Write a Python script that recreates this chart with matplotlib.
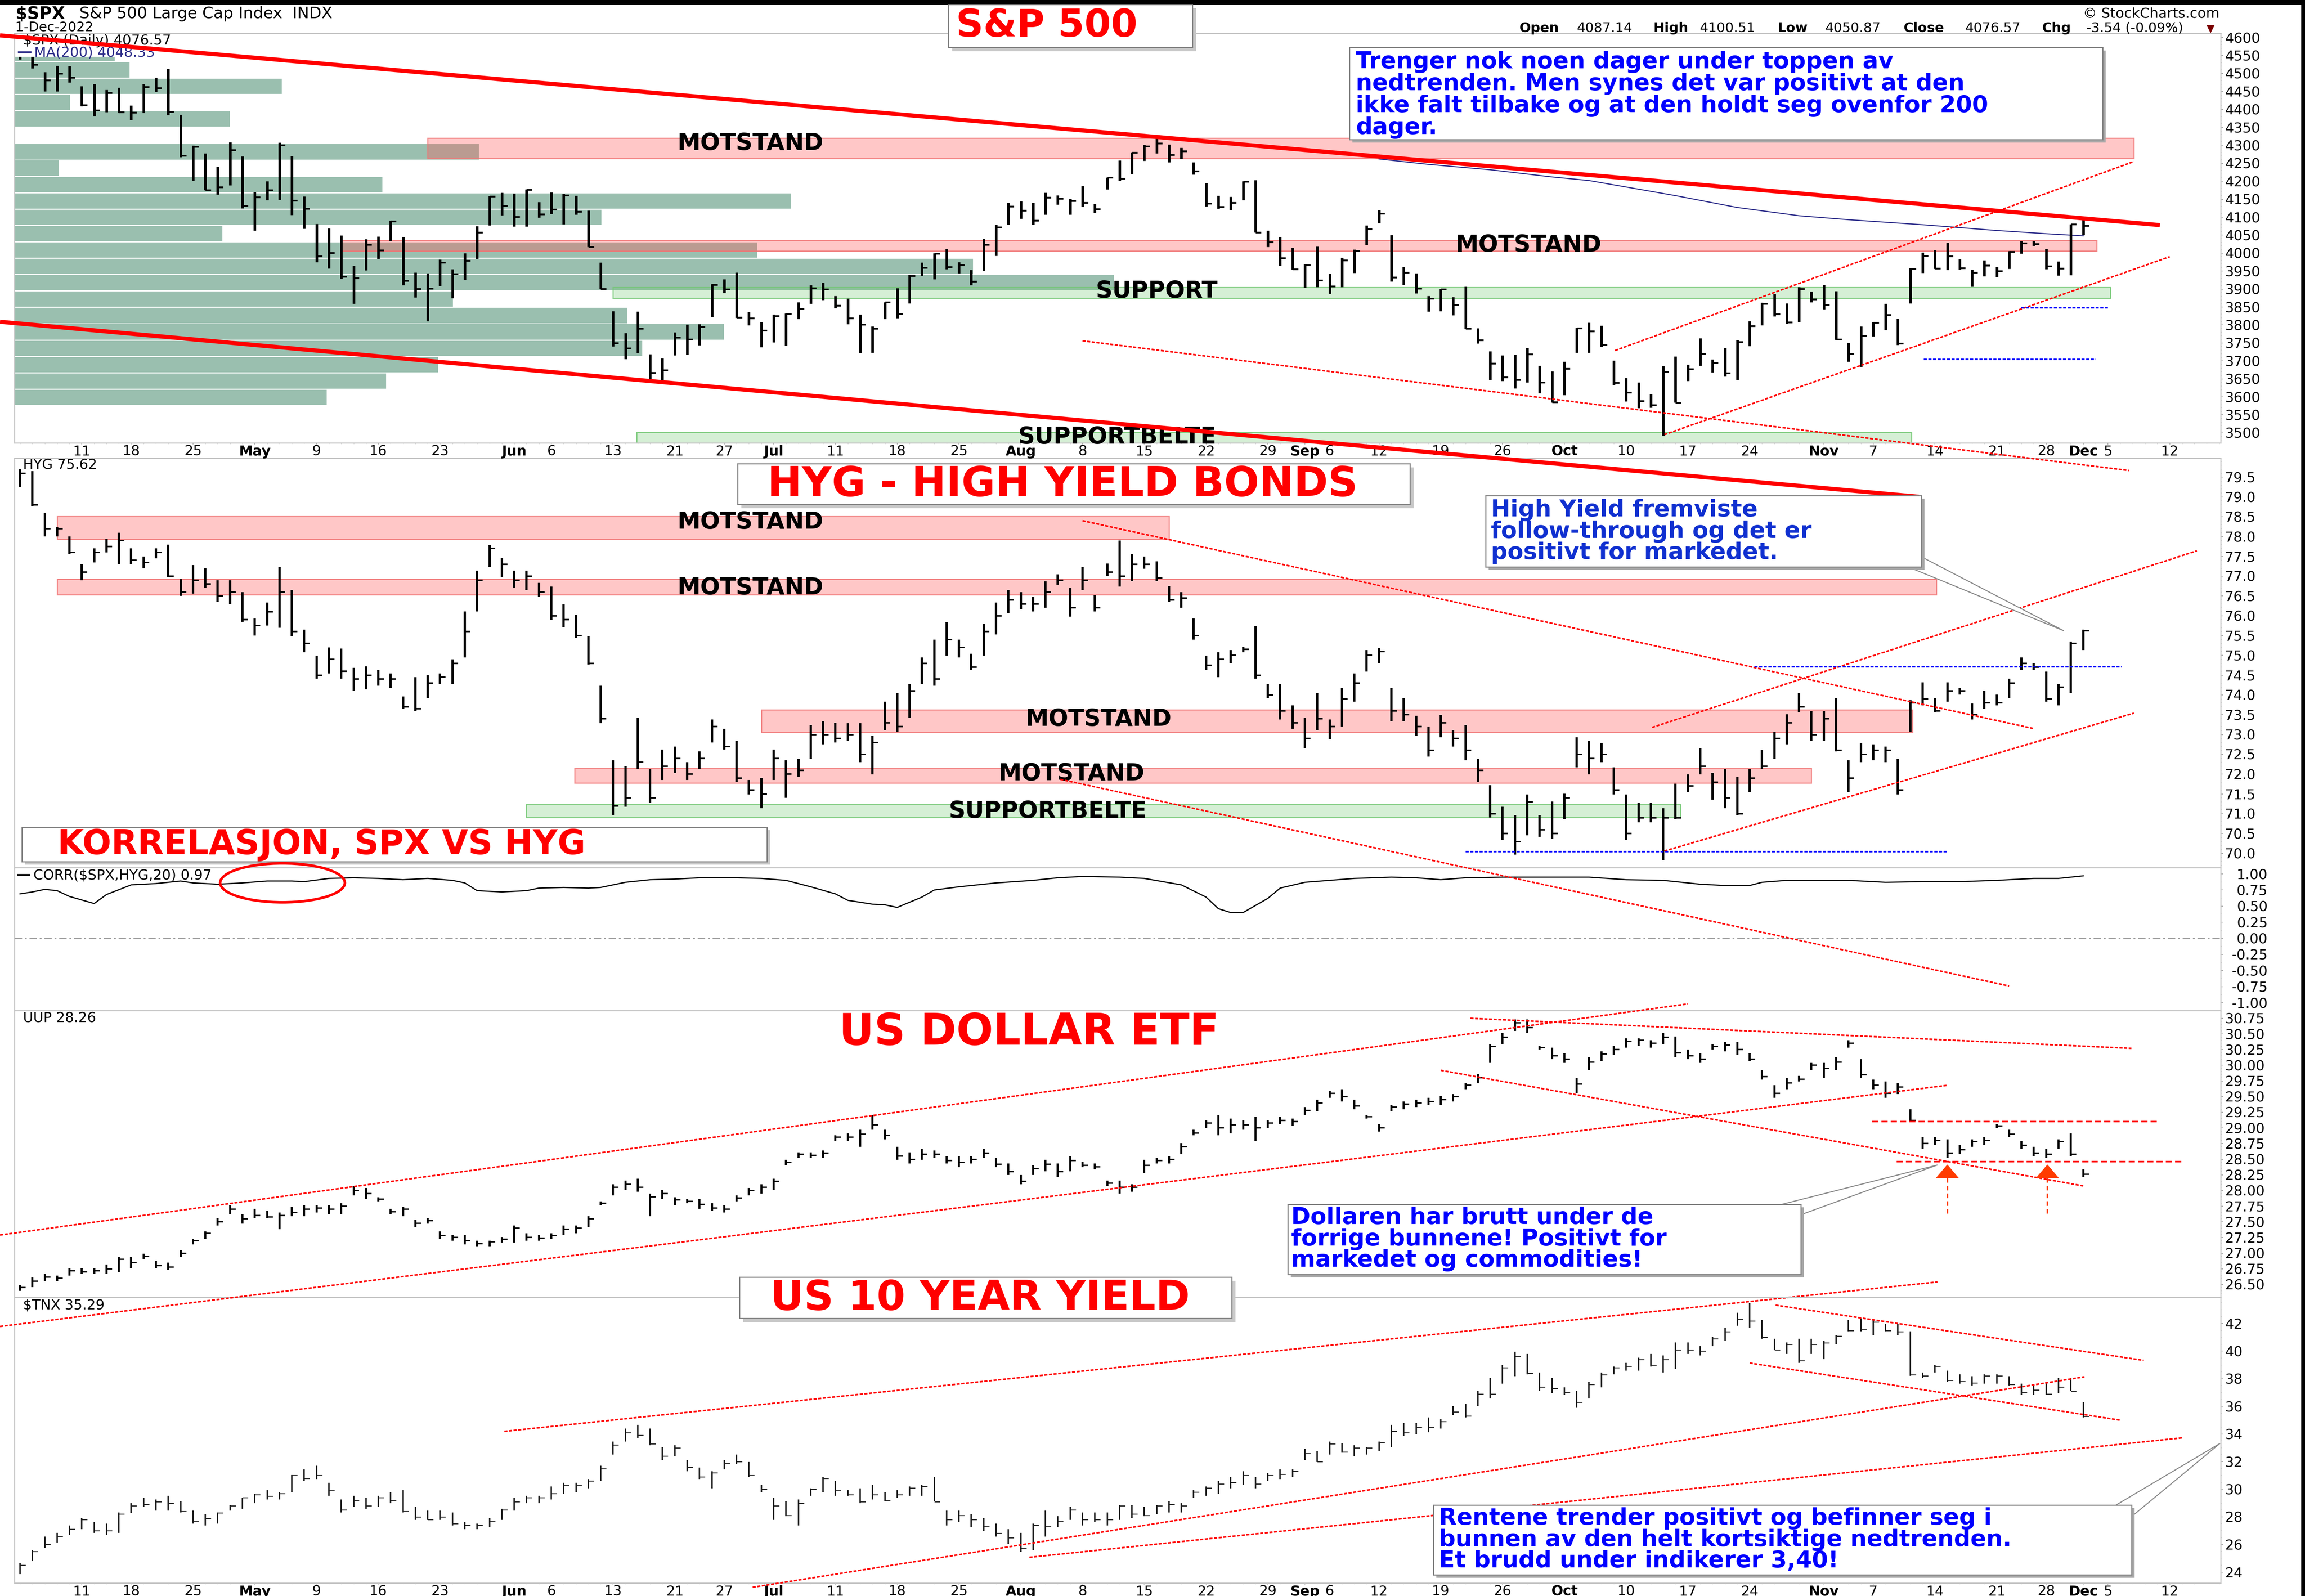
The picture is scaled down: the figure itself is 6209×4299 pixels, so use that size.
import numpy as np
import pandas as pd
import matplotlib
matplotlib.use("Agg")
import matplotlib.pyplot as plt
from matplotlib.collections import LineCollection
from matplotlib.patches import Rectangle, Polygon, Ellipse
from matplotlib.ticker import MultipleLocator, FixedLocator, FormatStrFormatter
from matplotlib.transforms import Affine2D

plt.rcParams['font.family'] = ['DejaVu Sans']

W, H = 6209, 4299

# trading calendar (bar index 0 = 4 Apr 2022)
holidays = pd.to_datetime(['2022-04-15', '2022-05-30', '2022-06-20', '2022-07-04', '2022-09-05', '2022-11-24'])
days = pd.bdate_range('2022-04-04', '2022-12-16')
days = days[~days.isin(holidays)]

tick_dates = ['2022-04-11', '2022-04-18', '2022-04-25', '2022-05-02', '2022-05-09', '2022-05-16',
              '2022-05-23', '2022-06-01', '2022-06-06', '2022-06-13', '2022-06-21', '2022-06-27',
              '2022-07-01', '2022-07-11', '2022-07-18', '2022-07-25', '2022-08-01', '2022-08-08',
              '2022-08-15', '2022-08-22', '2022-08-29', '2022-09-01', '2022-09-06', '2022-09-12',
              '2022-09-19', '2022-09-26', '2022-10-03', '2022-10-10', '2022-10-17', '2022-10-24',
              '2022-11-01', '2022-11-07', '2022-11-14', '2022-11-21', '2022-11-28', '2022-12-01',
              '2022-12-05', '2022-12-12']

# ---------------- $SPX daily bars ----------------
spx_high = [4583.5, 4593.5, 4503.9, 4521.2, 4520.6, 4464.4, 4471.0, 4453.9, 4460.5, 4410.5, 4471.0, 4488.3, 4512.9, 4385.1, 4299.0, 4278.1, 4240.7, 4308.5, 4269.7,
            4169.8, 4200.1, 4307.7, 4270.4, 4157.7, 4081.3, 4068.8, 4049.1, 3964.8, 4038.9, 4046.5, 4090.7, 4045.1, 3945.9, 3943.7, 3981.9, 3955.7, 3999.3, 4075.1, 4158.5, 4168.3,
            4166.5, 4177.5, 4142.7, 4168.8, 4164.9, 4160.1, 4119.1, 3973.6, 3838.2, 3777.6, 3837.6, 3719.1, 3707.7, 3779.7, 3801.8, 3802.6, 3913.7, 3927.7, 3945.9, 3836.5, 3808.8,
            3829.8, 3832.2, 3863.6, 3910.6, 3918.5, 3880.9, 3873.4, 3829.4, 3796.4, 3863.6, 3902.4, 3940.2, 3974.1, 3999.3, 4012.4, 3975.3, 3953.2, 4039.6, 4078.9, 4140.2,
            4144.9, 4140.5, 4167.7, 4161.3, 4151.6, 4186.6, 4137.3, 4211.0, 4257.9, 4280.5, 4301.8, 4325.3, 4302.2, 4292.9, 4253.1, 4195.1, 4159.8, 4156.6, 4200.5, 4203.0, 4063.0, 4045.0, 4015.4,
            3970.2, 4018.4, 3942.6, 3987.9, 4010.5, 4076.8, 4119.3, 4050.3, 3961.9, 3944.4, 3880.9, 3900.4, 3878.4, 3907.1, 3790.8, 3727.1, 3715.7, 3717.5, 3736.7, 3687.0, 3671.4,
            3698.4, 3791.9, 3806.9, 3797.9, 3701.6, 3652.2, 3640.7, 3608.3, 3685.4, 3713.0, 3689.7, 3762.8, 3703.9, 3736.0, 3757.9, 3810.7, 3862.6, 3886.2, 3860.0, 3905.4, 3893.7,
            3911.8, 3894.4, 3750.6, 3796.3, 3809.1, 3859.4, 3818.5, 3958.5, 4001.5, 4009.0, 4028.8, 3983.0, 3954.3, 3979.9, 3962.0, 4005.9, 4033.8, 4034.0, 4012.3, 3976.7, 4080.1,
            4100.5]
spx_low = [4539.2, 4514.2, 4450.0, 4450.3, 4474.6, 4408.4, 4381.3, 4392.7, 4390.8, 4370.3, 4390.1, 4448.8, 4384.5, 4267.6, 4200.8, 4175.0, 4162.9, 4188.6, 4124.3,
           4062.5, 4147.1, 4148.9, 4106.0, 4067.9, 3975.5, 3957.0, 3928.8, 3858.9, 3951.9, 3984.0, 4033.9, 3911.2, 3876.6, 3810.3, 3909.0, 3875.1, 3925.0, 3984.6, 4077.4, 4104.9,
           4073.9, 4074.4, 4098.7, 4109.2, 4080.2, 4107.2, 4017.2, 3900.2, 3740.0, 3705.7, 3722.3, 3639.8, 3636.9, 3715.3, 3717.7, 3743.5, 3821.8, 3889.7, 3820.1, 3799.0, 3738.7,
           3752.1, 3742.1, 3817.2, 3858.9, 3869.3, 3847.2, 3802.4, 3721.6, 3723.3, 3817.2, 3818.6, 3860.7, 3936.7, 3927.6, 3955.8, 3944.5, 3910.7, 3951.4, 3992.7, 4079.2,
           4096.0, 4079.8, 4107.2, 4135.4, 4107.3, 4129.0, 4112.1, 4177.3, 4201.4, 4219.8, 4256.9, 4277.8, 4253.1, 4262.0, 4218.7, 4129.9, 4124.0, 4120.0, 4147.6, 4057.7, 4017.4, 3965.2, 3954.5,
           3903.7, 3906.2, 3886.8, 3906.0, 3944.8, 4022.9, 4083.7, 3921.4, 3912.0, 3888.6, 3837.1, 3839.0, 3827.5, 3789.5, 3749.0, 3647.5, 3644.8, 3623.3, 3640.6, 3610.4, 3584.1,
           3604.9, 3722.7, 3722.7, 3739.2, 3633.2, 3588.1, 3568.5, 3569.9, 3491.6, 3584.4, 3644.2, 3686.5, 3668.2, 3656.4, 3647.4, 3741.7, 3799.4, 3824.1, 3803.8, 3808.3, 3863.2,
           3843.8, 3758.7, 3698.2, 3684.0, 3767.9, 3786.3, 3744.2, 3860.0, 3944.8, 3956.4, 3953.2, 3954.3, 3906.5, 3936.0, 3933.3, 3956.9, 3998.7, 4020.8, 3955.8, 3937.7, 3938.6,
           4050.9]
spx_close = [4582.6, 4525.1, 4481.2, 4500.2, 4488.3, 4412.5, 4397.5, 4446.6, 4392.6, 4391.7, 4462.2, 4459.5, 4393.7, 4271.8, 4296.1, 4175.2, 4184.0, 4287.5, 4131.9,
             4155.4, 4175.5, 4300.2, 4146.9, 4123.3, 3991.2, 4001.1, 3935.2, 3930.1, 4023.9, 4008.0, 4088.9, 3923.7, 3900.8, 3901.4, 3973.8, 3941.5, 3978.7, 4057.8, 4158.2, 4132.2,
             4101.2, 4176.8, 4108.5, 4121.4, 4160.7, 4115.8, 4017.8, 3900.9, 3749.6, 3735.5, 3790.0, 3666.8, 3674.8, 3764.8, 3759.9, 3795.7, 3911.7, 3900.1, 3821.6, 3818.8, 3785.4,
             3825.3, 3831.4, 3845.1, 3902.6, 3899.4, 3854.4, 3818.8, 3801.8, 3790.4, 3863.2, 3830.9, 3936.7, 3959.9, 3999.0, 3961.6, 3966.8, 3921.1, 4023.6, 4072.4, 4130.3,
             4118.6, 4091.2, 4155.2, 4151.9, 4145.2, 4140.1, 4122.5, 4210.2, 4207.3, 4280.2, 4297.1, 4305.2, 4274.0, 4283.7, 4228.5, 4138.0, 4128.7, 4140.8, 4199.1, 4057.7, 4030.6, 3986.2, 3955.0,
             3966.9, 3924.3, 3908.2, 3979.9, 4006.2, 4067.4, 4110.4, 3932.7, 3946.0, 3901.4, 3873.3, 3899.9, 3855.9, 3789.9, 3758.0, 3693.2, 3655.0, 3647.3, 3719.0, 3640.5, 3585.6,
             3678.4, 3790.9, 3783.3, 3744.5, 3639.7, 3612.4, 3588.8, 3577.0, 3669.9, 3583.1, 3678.0, 3720.0, 3695.2, 3665.8, 3752.8, 3797.3, 3859.1, 3830.6, 3807.3, 3901.1, 3872.0,
             3856.1, 3759.7, 3719.9, 3770.6, 3806.8, 3828.1, 3748.6, 3956.4, 3992.9, 3957.3, 3991.7, 3958.8, 3946.6, 3965.3, 3949.9, 4003.6, 4027.3, 4026.1, 3963.9, 3957.6, 4080.1,
             4076.6]

# 200-day moving average (visible part)
ma_day = [110, 114, 119, 124, 127, 130, 134, 139, 144, 148, 151, 154, 157, 160, 164, 167]
ma_val = [4262, 4247, 4232, 4212, 4202, 4184, 4160, 4127, 4104, 4093, 4086, 4079, 4071, 4063, 4054, 4048]

# volume-by-price rows (top of first row, row size, relative volume)
vbp_top = 4578
vbp_bin = 45.56
vbp_volume = [27, 31, 72, 15, 58, 0, 125, 12, 99, 209, 158, 56, 200, 258, 296, 118, 165, 191, 169, 114, 100, 84]

# ---------------- HYG daily bars ----------------
hyg_high = [79.7, 79.65, 78.6, 78.25, 78.0, 77.3, 77.7, 77.95, 78.1, 77.7,
            77.5, 77.7, 77.8, 76.92, 77.28, 77.2, 76.9, 76.9, 76.6, 75.93,
            76.33, 77.23, 76.65, 75.65, 74.99, 75.2, 75.17, 74.68, 74.72, 74.63,
            74.54, 73.96, 74.45, 74.5, 74.54, 74.9, 76.11, 77.14, 77.79, 77.46,
            77.14, 77.14, 76.83, 76.74, 76.29, 76.02, 75.48, 74.23, 72.35, 72.2,
            73.42, 72.12, 72.62, 72.7, 72.3, 72.57, 73.38, 73.15, 72.84, 71.85,
            71.9, 72.62, 72.35, 72.39, 73.24, 73.33, 73.3, 73.29, 73.29, 72.97,
            73.83, 74.05, 74.27, 74.95, 75.4, 75.84, 75.4, 75.04, 75.8, 76.33,
            76.65, 76.6, 76.47, 76.87, 77.05, 76.7, 77.23, 76.52, 77.32, 77.9,
            77.55, 77.5, 77.37, 76.75, 76.6, 75.93, 74.99, 75.08, 75.13, 75.22,
            75.73, 74.27, 74.27, 73.74, 73.42, 74.05, 73.38, 74.18, 74.54, 75.13,
            75.19, 74.18, 73.92, 73.47, 73.2, 73.49, 73.11, 73.24, 72.39, 71.72,
            71.18, 70.96, 71.49, 70.96, 71.31, 71.51, 72.93, 72.84, 72.79, 72.17,
            71.49, 71.27, 71.27, 71.14, 71.76, 71.99, 72.66, 72.03, 72.12, 71.94,
            72.12, 72.61, 73.06, 73.51, 74.05, 73.6, 73.6, 73.92, 72.35, 72.79,
            72.75, 72.70, 72.39, 73.87, 74.32, 73.92, 74.32, 74.18, 73.78, 74.10,
            74.01, 74.41, 74.95, 74.81, 74.59, 74.27, 75.35, 75.65]
hyg_low = [79.25, 78.76, 78.0, 78.0, 77.55, 76.9, 77.35, 77.6, 77.3, 77.3,
           77.2, 77.45, 76.97, 76.5, 76.56, 76.7, 76.35, 76.3, 75.85, 75.5,
           75.75, 75.7, 75.48, 75.08, 74.41, 74.54, 74.41, 74.1, 74.14, 74.23,
           74.18, 73.65, 73.6, 73.92, 74.27, 74.27, 74.95, 76.11, 77.23, 76.97,
           76.7, 76.65, 76.47, 75.89, 75.71, 75.44, 74.77, 73.29, 70.97, 71.18,
           72.12, 71.27, 71.85, 72.03, 71.85, 72.12, 72.8, 72.62, 71.81, 71.49,
           71.14, 71.85, 71.4, 71.94, 72.39, 72.75, 72.8, 72.84, 72.3, 71.99,
           73.11, 73.06, 73.42, 74.27, 74.23, 74.99, 74.95, 74.63, 74.99, 75.53,
           76.07, 76.16, 76.11, 76.2, 76.78, 75.98, 76.65, 76.11, 77.0, 76.74,
           76.88, 77.19, 76.88, 76.35, 76.2, 75.4, 74.63, 74.45, 74.81, 75.08,
           74.41, 73.92, 73.38, 73.15, 72.66, 73.11, 72.88, 73.2, 73.83, 74.59,
           74.81, 73.33, 73.33, 72.97, 72.44, 72.93, 72.7, 72.35, 71.81, 70.91,
           70.33, 69.97, 70.46, 70.42, 70.37, 70.87, 72.17, 71.99, 72.3, 71.49,
           70.33, 70.78, 70.78, 69.83, 70.87, 71.54, 71.99, 71.36, 71.14, 70.96,
           71.54, 72.12, 72.39, 72.75, 73.56, 72.84, 72.84, 72.57, 71.54, 72.3,
           72.35, 72.30, 71.49, 73.06, 73.74, 73.56, 73.83, 74.01, 73.38, 73.65,
           73.74, 73.92, 74.63, 74.63, 73.83, 73.74, 74.05, 75.13]
hyg_close = [79.6, 78.8, 78.2, 78.2, 77.6, 77.1, 77.6, 77.75, 77.9, 77.4,
             77.35, 77.6, 77.0, 76.6, 76.9, 76.8, 76.5, 76.6, 75.9, 75.75,
             76.1, 76.6, 75.6, 75.3, 74.5, 74.9, 74.6, 74.4, 74.5, 74.4,
             74.4, 73.7, 73.65, 74.3, 74.45, 74.8, 75.6, 76.9, 77.7, 77.3,
             76.9, 77.0, 76.6, 76.0, 75.9, 75.5, 74.8, 73.4, 71.2, 71.4,
             72.3, 71.4, 72.2, 72.4, 72.0, 72.4, 73.2, 72.7, 71.9, 71.6,
             71.5, 72.4, 72.0, 72.1, 73.0, 73.0, 72.9, 73.0, 72.5, 72.8,
             73.3, 73.2, 74.1, 74.8, 74.4, 75.4, 75.2, 74.7, 75.6, 76.0,
             76.4, 76.3, 76.3, 76.6, 76.9, 76.2, 76.9, 76.2, 77.1, 77.0,
             77.3, 77.3, 76.95, 76.4, 76.45, 75.5, 74.75, 74.9, 75.0, 75.15,
             74.5, 74.0, 73.6, 73.3, 72.9, 73.4, 73.2, 73.9, 74.3, 75.0,
             75.1, 73.6, 73.5, 73.2, 72.6, 73.3, 72.9, 72.6, 72.1, 71.0,
             70.5, 70.3, 71.3, 70.6, 70.5, 71.4, 72.5, 72.4, 72.5, 71.6,
             70.5, 70.9, 70.9, 70.9, 70.9, 71.7, 72.2, 71.8, 71.4, 71.0,
             71.9, 72.2, 72.9, 73.3, 73.7, 73.0, 73.4, 72.6, 71.9, 72.5,
             72.6, 72.6, 71.6, 73.8, 73.9, 73.6, 74.1, 74.1, 73.5, 73.8,
             73.8, 74.3, 74.8, 74.7, 73.9, 74.2, 75.3, 75.62]

# CORR($SPX,HYG,20)
corr_day = [0, 1, 2, 3, 4, 6, 7, 9, 11, 13, 14, 16, 18, 20, 22, 23, 25, 27, 29, 31, 33, 35, 36, 37, 39,
            41, 42, 44, 46, 47, 49, 51, 53, 55, 58, 60, 62, 64, 66, 67, 69, 70, 71, 73, 74, 76, 79, 82,
            84, 86, 89, 90, 91, 94, 96, 97, 98, 99, 101, 102, 104, 106, 108, 111, 113, 115, 117, 120,
            127, 130, 133, 136, 138, 140, 141, 143, 148, 151, 154, 157, 160, 163, 165, 167]
corr_val = [0.69, 0.72, 0.76, 0.74, 0.65, 0.54, 0.68, 0.83, 0.85, 0.89, 0.86, 0.84, 0.86, 0.89, 0.89,
            0.88, 0.93, 0.94, 0.93, 0.91, 0.93, 0.90, 0.86, 0.74, 0.72, 0.74, 0.78, 0.79, 0.78, 0.79,
            0.87, 0.91, 0.92, 0.94, 0.94, 0.93, 0.90, 0.80, 0.69, 0.59, 0.53, 0.52, 0.48, 0.64, 0.75,
            0.80, 0.86, 0.90, 0.94, 0.96, 0.95, 0.94, 0.93, 0.83, 0.64, 0.46, 0.40, 0.40, 0.62, 0.78,
            0.87, 0.90, 0.93, 0.95, 0.94, 0.91, 0.94, 0.95, 0.95, 0.91, 0.90, 0.84, 0.82, 0.82, 0.87,
            0.90, 0.90, 0.87, 0.88, 0.88, 0.90, 0.93, 0.93, 0.97]

# ---------------- UUP daily bars ----------------
uup_high = [26.49, 26.61, 26.67, 26.64, 26.76, 26.76, 26.76, 26.82, 26.94, 26.94,
            26.99, 26.88, 26.85, 27.05, 27.23, 27.35, 27.56, 27.77, 27.62, 27.71,
            27.68, 27.65, 27.74, 27.77, 27.77, 27.77, 27.80, 28.07, 28.04, 27.89,
            27.71, 27.74, 27.53, 27.56, 27.35, 27.29, 27.29, 27.20, 27.20, 27.26,
            27.44, 27.32, 27.29, 27.32, 27.44, 27.44, 27.59, 27.83, 28.10, 28.16,
            28.19, 27.95, 28.01, 27.89, 27.86, 27.86, 27.80, 27.77, 27.92, 28.04,
            28.10, 28.19, 28.49, 28.61, 28.61, 28.64, 28.88, 28.91, 28.97, 29.21,
            28.97, 28.70, 28.61, 28.67, 28.64, 28.55, 28.55, 28.55, 28.67, 28.52,
            28.43, 28.25, 28.40, 28.49, 28.43, 28.55, 28.46, 28.43, 28.16, 28.16,
            28.10, 28.49, 28.52, 28.55, 28.76, 28.97, 29.12, 29.21, 29.15, 29.12,
            29.18, 29.12, 29.18, 29.15, 29.33, 29.45, 29.59, 29.62, 29.45, 29.21,
            29.06, 29.36, 29.42, 29.45, 29.48, 29.51, 29.54, 29.71, 29.86, 30.34,
            30.52, 30.73, 30.73, 30.31, 30.28, 30.19, 29.80, 30.13, 30.22, 30.31,
            30.43, 30.43, 30.40, 30.52, 30.46, 30.25, 30.19, 30.34, 30.37, 30.37,
            30.19, 29.92, 29.68, 29.80, 29.83, 30.04, 30.04, 30.13, 30.40, 30.10,
            29.77, 29.74, 29.71, 29.30, 28.85, 28.85, 28.82, 28.73, 28.82, 28.85,
            29.06, 28.97, 28.79, 28.70, 28.67, 28.82, 28.91, 28.34]
uup_low = [26.40, 26.46, 26.55, 26.55, 26.64, 26.67, 26.67, 26.67, 26.70, 26.76,
           26.91, 26.76, 26.73, 26.94, 27.14, 27.23, 27.44, 27.62, 27.47, 27.56,
           27.56, 27.38, 27.59, 27.59, 27.65, 27.62, 27.62, 27.92, 27.86, 27.83,
           27.62, 27.59, 27.41, 27.47, 27.23, 27.20, 27.14, 27.11, 27.11, 27.17,
           27.17, 27.20, 27.20, 27.23, 27.29, 27.32, 27.41, 27.77, 27.92, 28.01,
           27.98, 27.59, 27.86, 27.77, 27.80, 27.71, 27.68, 27.65, 27.83, 27.92,
           27.95, 28.01, 28.40, 28.52, 28.52, 28.52, 28.79, 28.79, 28.70, 28.97,
           28.82, 28.49, 28.43, 28.49, 28.52, 28.43, 28.37, 28.43, 28.52, 28.37,
           28.25, 28.10, 28.25, 28.31, 28.22, 28.31, 28.37, 28.34, 28.07, 27.95,
           27.98, 28.28, 28.43, 28.43, 28.58, 28.88, 29.00, 28.88, 28.91, 28.97,
           28.79, 29.00, 29.06, 29.03, 29.21, 29.27, 29.48, 29.42, 29.30, 29.15,
           28.94, 29.27, 29.30, 29.33, 29.36, 29.36, 29.42, 29.62, 29.71, 30.04,
           30.34, 30.55, 30.52, 30.25, 30.10, 30.04, 29.56, 29.92, 30.07, 30.16,
           30.28, 30.31, 30.28, 30.34, 30.13, 30.10, 30.04, 30.25, 30.22, 30.16,
           30.07, 29.77, 29.48, 29.62, 29.74, 29.92, 29.80, 29.92, 30.28, 29.80,
           29.62, 29.48, 29.54, 29.09, 28.67, 28.73, 28.52, 28.58, 28.70, 28.73,
           29.00, 28.85, 28.67, 28.55, 28.52, 28.67, 28.55, 28.22]
uup_close = [26.45, 26.55, 26.62, 26.60, 26.72, 26.70, 26.72, 26.75, 26.90, 26.85,
             26.95, 26.80, 26.78, 27.00, 27.20, 27.32, 27.50, 27.70, 27.55, 27.60,
             27.58, 27.60, 27.65, 27.70, 27.72, 27.70, 27.75, 28.00, 27.95, 27.86,
             27.66, 27.70, 27.48, 27.52, 27.28, 27.25, 27.20, 27.15, 27.18, 27.22,
             27.40, 27.25, 27.24, 27.28, 27.38, 27.40, 27.55, 27.80, 28.05, 28.10,
             28.05, 27.90, 27.95, 27.85, 27.83, 27.78, 27.72, 27.70, 27.88, 28.00,
             28.05, 28.15, 28.45, 28.58, 28.56, 28.60, 28.85, 28.85, 28.90, 29.05,
             28.88, 28.55, 28.50, 28.58, 28.58, 28.48, 28.45, 28.50, 28.60, 28.42,
             28.30, 28.15, 28.35, 28.42, 28.30, 28.48, 28.40, 28.38, 28.12, 28.05,
             28.05, 28.40, 28.48, 28.50, 28.70, 28.92, 29.08, 29.00, 29.05, 29.05,
             29.00, 29.08, 29.12, 29.10, 29.28, 29.40, 29.55, 29.50, 29.35, 29.18,
             29.00, 29.33, 29.38, 29.40, 29.42, 29.45, 29.50, 29.68, 29.80, 30.30,
             30.45, 30.68, 30.60, 30.28, 30.15, 30.10, 29.70, 30.05, 30.18, 30.25,
             30.38, 30.40, 30.35, 30.45, 30.20, 30.15, 30.10, 30.30, 30.32, 30.25,
             30.10, 29.82, 29.55, 29.72, 29.78, 30.00, 29.95, 30.05, 30.35, 29.85,
             29.68, 29.55, 29.65, 29.12, 28.75, 28.80, 28.60, 28.65, 28.78, 28.80,
             29.03, 28.90, 28.72, 28.60, 28.58, 28.78, 28.58, 28.26]

# ---------------- $TNX daily bars ----------------
tnx_high = [24.66, 25.61, 26.56, 26.83, 27.37, 27.91, 27.64, 27.50, 28.31, 29.00,
            29.40, 29.26, 29.53, 29.12, 28.45, 28.18, 28.31, 28.85, 29.40, 29.67,
            29.94, 29.80, 31.02, 31.43, 31.70, 30.48, 29.26, 29.53, 29.40, 29.53,
            29.80, 29.94, 28.72, 28.45, 28.45, 28.31, 27.64, 27.50, 27.91, 28.58,
            29.40, 29.53, 29.53, 30.21, 30.48, 30.48, 30.75, 31.70, 33.46, 34.40,
            34.67, 34.40, 33.05, 33.19, 32.10, 31.56, 31.29, 32.10, 32.51, 31.97,
            30.34, 29.40, 29.12, 29.26, 30.07, 30.89, 30.61, 29.94, 30.07, 30.34,
            29.80, 29.94, 30.21, 30.34, 30.89, 28.45, 28.45, 28.18, 27.91, 27.50,
            27.10, 26.83, 27.50, 28.45, 28.04, 28.72, 28.31, 28.31, 28.31, 28.85,
            28.85, 28.72, 28.85, 29.12, 28.99, 29.94, 30.21, 30.61, 30.89, 31.29,
            30.89, 31.16, 31.43, 31.43, 32.92, 32.78, 33.46, 33.32, 33.19, 33.05,
            33.46, 34.67, 34.81, 34.81, 35.21, 35.07, 36.03, 36.16, 37.11, 38.06,
            39.00, 39.95, 39.81, 38.46, 38.06, 37.38, 37.11, 37.79, 38.46, 38.87,
            39.14, 39.54, 39.81, 39.68, 40.63, 40.63, 40.36, 41.03, 41.71, 42.79,
            43.47, 42.25, 40.90, 40.63, 40.90, 40.90, 40.76, 41.17, 42.25, 42.39,
            42.25, 41.98, 41.98, 41.44, 38.46, 39.00, 38.60, 38.33, 38.19, 38.33,
            38.33, 38.19, 37.65, 37.51, 37.65, 38.06, 38.06, 36.29]
tnx_low = [23.85, 24.80, 25.74, 26.15, 26.69, 27.10, 26.83, 26.69, 26.83, 28.30,
           28.72, 28.45, 28.45, 28.31, 27.50, 27.37, 27.50, 28.45, 28.58, 28.99,
           29.26, 29.26, 29.80, 30.61, 30.75, 29.53, 28.31, 28.72, 28.58, 28.72,
           28.99, 28.31, 27.77, 27.77, 27.77, 27.37, 27.10, 27.10, 27.23, 27.77,
           28.45, 28.99, 28.99, 29.26, 29.67, 29.80, 30.07, 30.61, 32.51, 33.46,
           33.73, 33.19, 32.10, 32.37, 31.29, 30.75, 30.07, 31.43, 31.83, 30.89,
           29.80, 27.77, 28.04, 27.37, 29.53, 29.80, 29.53, 29.53, 28.99, 29.26,
           29.12, 29.40, 29.53, 29.53, 29.12, 27.37, 27.64, 27.23, 26.97, 26.56,
           26.02, 25.47, 25.61, 26.56, 27.23, 27.77, 27.37, 27.64, 27.37, 27.77,
           27.91, 28.04, 28.18, 28.31, 28.31, 29.40, 29.53, 29.67, 30.07, 30.34,
           30.07, 30.61, 30.75, 30.89, 32.10, 31.97, 32.51, 32.65, 32.37, 32.51,
           32.78, 33.05, 33.86, 34.00, 34.13, 34.40, 35.35, 35.21, 36.03, 36.57,
           37.65, 38.19, 38.33, 37.11, 36.97, 36.84, 35.89, 36.57, 37.38, 38.33,
           38.60, 38.60, 38.87, 38.46, 38.73, 39.81, 39.68, 40.36, 40.76, 41.84,
           41.71, 40.90, 40.09, 39.81, 39.14, 39.81, 39.41, 40.49, 41.44, 41.44,
           41.17, 41.44, 41.17, 38.20, 38.06, 38.46, 37.79, 37.65, 37.51, 37.65,
           37.65, 37.51, 36.84, 36.84, 36.84, 36.97, 37.11, 35.20]
tnx_close = [24.50, 25.50, 26.00, 26.60, 27.10, 27.80, 27.00, 27.00, 28.20, 28.80,
             28.90, 29.10, 29.00, 28.40, 27.70, 27.90, 28.30, 28.80, 29.40, 29.60,
             29.50, 29.70, 31.00, 30.80, 31.00, 29.90, 28.50, 29.20, 28.80, 29.40,
             29.20, 28.40, 28.00, 27.80, 28.00, 27.50, 27.40, 27.40, 27.70, 28.50,
             29.10, 29.40, 29.40, 29.70, 30.30, 30.30, 30.60, 31.50, 33.20, 34.10,
             33.90, 33.30, 32.40, 33.00, 31.60, 30.90, 31.20, 31.90, 32.00, 31.00,
             30.00, 28.80, 28.10, 29.00, 30.00, 30.80, 29.90, 29.60, 29.10, 29.60,
             29.20, 29.60, 30.10, 30.20, 29.10, 27.80, 28.10, 27.80, 27.30, 26.80,
             26.50, 25.70, 27.40, 27.30, 27.70, 28.50, 27.80, 27.80, 27.80, 28.80,
             28.20, 28.10, 28.80, 28.90, 28.80, 29.80, 30.10, 30.40, 30.50, 31.00,
             30.40, 31.00, 31.10, 31.30, 32.60, 32.00, 33.30, 32.70, 33.00, 33.00,
             33.40, 34.20, 34.10, 34.50, 34.50, 34.90, 35.60, 35.30, 36.90, 36.90,
             38.80, 39.60, 38.40, 37.40, 37.30, 37.00, 36.30, 37.60, 38.30, 38.80,
             38.90, 39.40, 39.00, 39.40, 40.10, 40.10, 40.00, 40.90, 41.40, 42.30,
             42.20, 41.00, 40.10, 40.50, 39.30, 40.50, 40.60, 41.10, 41.50, 41.60,
             42.10, 41.50, 41.40, 38.30, 38.20, 38.90, 37.90, 37.80, 37.70, 38.20,
             38.20, 37.60, 37.00, 37.20, 36.90, 37.40, 37.10, 35.29]

# ---------------- drawn annotations (bar index, price) ----------------
spx_zones = [(33.0, 171.1, 4263, 4320, 'r'), (26.0, 168.1, 4006, 4036, 'r'),
             (48.0, 169.2, 3875, 3905, 'g'), (49.9, 153.1, 3470, 3502, 'g')]
spx_zone_text = [(59.1, 4305, 'MOTSTAND'), (122.1, 4021, 'MOTSTAND'), (92.0, 3893, 'SUPPORT'), (88.8, 3487, 'SUPPORTBELTE')]
spx_thick = [((-1.62, 4606), (173.2, 4078)), ((-1.62, 3809), (153.7, 3322))]
spx_dotted = [((86.0, 3756), (170.7, 3395)), ((129.1, 3729), (171.1, 4255)), ((133.1, 3495), (174.0, 3990))]
spx_blue = [((162.0, 3848), (169.0, 3848)), ((154.1, 3704), (168.0, 3704))]

hyg_zones = [(3.0, 93.0, 77.93, 78.51, 'r'), (3.0, 155.1, 76.53, 76.92, 'r'), (60.0, 153.2, 73.05, 73.62, 'r'),
             (44.9, 145.0, 71.78, 72.14, 'r'), (41.0, 134.4, 70.91, 71.23, 'g')]
hyg_zone_text = [(59.1, 78.36, 'MOTSTAND'), (59.1, 76.70, 'MOTSTAND'), (87.3, 73.38, 'MOTSTAND'),
                 (85.1, 72.0, 'MOTSTAND'), (83.2, 71.06, 'SUPPORTBELTE')]
hyg_dotted = [((86.0, 78.40), (163.0, 73.15)), ((84.2, 71.87), (161.0, 66.65)),
              ((132.1, 73.18), (176.2, 77.64)), ((133.1, 70.06), (171.1, 73.54))]
hyg_blue = [((140.4, 74.71), (170.1, 74.71)), ((117.0, 70.04), (156.0, 70.04))]

uup_dotted = [((-1.62, 27.29), (135.0, 30.98)), ((-1.62, 25.83), (156.0, 29.68)),
              ((117.4, 30.75), (170.9, 30.27)), ((115.0, 29.92), (167.1, 28.07))]
uup_dashed = [((149.9, 29.10), (173.1, 29.10)), ((151.9, 28.46), (175.1, 28.46))]
uup_arrow_day = [156.0, 164.1]

tnx_dotted = [((39.2, 34.19), (155.2, 45.01)), ((59.3, 22.90), (167.1, 38.14)), ((81.7, 25.07), (175.1, 33.73)),
              ((142.1, 43.33), (171.9, 39.33)), ((140.0, 39.14), (170.0, 35.00))]

spx_note = ["Trenger nok noen dager under toppen av", "nedtrenden. Men synes det var positivt at den",
            "ikke falt tilbake og at den holdt seg ovenfor 200", "dager."]
hyg_note = ["High Yield fremviste", "follow-through og det er", "positivt for markedet."]
uup_note = ["Dollaren har brutt under de", "forrige bunnene! Positivt for", "markedet og commodities!"]
tnx_note = ["Rentene trender positivt og befinner seg i", "bunnen av den helt kortsiktige nedtrenden.",
            "Et brudd under indikerer 3,40!"]

# ---------------- figure ----------------
XL, XR = -0.45, 178.13
fig = plt.figure(figsize=(W / 100, H / 100), dpi=100)
fig.patch.set_facecolor('white')
px = Affine2D().scale(1.0 / W, -1.0 / H).translate(0, 1) + fig.transFigure

tick_pos = [days.get_loc(pd.Timestamp(t)) for t in tick_dates]
tick_lbl, tick_month = [], []
for i in tick_pos:
    new_month = i == 0 or days[i - 1].month != days[i].month
    tick_lbl.append(days[i].strftime('%b') if new_month else str(days[i].day))
    tick_month.append(new_month)

RED = '#ff0000'
GRAY = '#c4c4c4'
TICKFS = 27
LEGFS = 27


def panel(top, bottom, z, ylim, major, minor, fmt):
    ax = fig.add_axes([39 / W, 1 - bottom / H, (5982 - 39) / W, (bottom - top) / H], zorder=z)
    ax.patch.set_visible(False)
    ax.set_xlim(XL, XR)
    ax.set_ylim(*ylim)
    for s in ax.spines.values():
        s.set_color(GRAY)
        s.set_linewidth(2.2)
    ax.yaxis.tick_right()
    ax.yaxis.set_major_locator(MultipleLocator(major))
    ax.yaxis.set_minor_locator(MultipleLocator(minor))
    ax.yaxis.set_major_formatter(FormatStrFormatter(fmt))
    ax.tick_params(axis='y', which='major', direction='out', length=5, width=1.5, color='#a8a8a8',
                   labelsize=TICKFS, pad=3)
    ax.tick_params(axis='y', which='minor', direction='out', length=3, width=1.2, color='#c8c8c8')
    ax.xaxis.set_major_locator(FixedLocator(tick_pos))
    ax.xaxis.set_minor_locator(MultipleLocator(1))
    ax.tick_params(axis='x', which='both', labelbottom=False, bottom=False)
    return ax


def date_axis(ax):
    ax.set_xticks(tick_pos, tick_lbl)
    ax.tick_params(axis='x', which='major', bottom=True, labelbottom=True, direction='out', length=3,
                   width=1.5, color='#a8a8a8', labelsize=TICKFS, pad=1)
    ax.tick_params(axis='x', which='minor', bottom=True, direction='out', length=2, width=1, color='#c8c8c8')
    for lab, m in zip(ax.get_xticklabels(), tick_month):
        if m:
            lab.set_fontweight('bold')


def bars(ax, hi, lo, cl, lw, color='black'):
    x = np.arange(len(hi))
    ax.add_collection(LineCollection([[(i, l), (i, h)] for i, h, l in zip(x, hi, lo)],
                                     colors=color, linewidths=lw, zorder=4))
    ax.add_collection(LineCollection([[(i, c), (i + 0.45, c)] for i, c in zip(x, cl)],
                                     colors=color, linewidths=lw * 0.65, zorder=4))


def zones(ax, zl, tl):
    for x0, x1, y0, y1, k in zl:
        if k == 'r':
            fc, ec = (1.0, 0.32, 0.32, 0.32), (0.94, 0.45, 0.45, 0.85)
        else:
            fc, ec = (0.42, 0.78, 0.42, 0.28), (0.45, 0.78, 0.45, 0.85)
        ax.add_patch(Rectangle((x0, y0), x1 - x0, y1 - y0, facecolor=fc, edgecolor=ec, lw=2.2, zorder=2))
    for x, y, s in tl:
        ax.text(x, y, s, ha='center', va='center', fontsize=45, fontweight='bold', color='black', zorder=5)


def lines(ax, segs, color, lw, ls, z=6):
    for (x0, y0), (x1, y1) in segs:
        ax.plot([x0, x1], [y0, y1], color=color, lw=lw, ls=ls, zorder=z, clip_on=False,
                solid_capstyle='butt', dash_capstyle='butt')


DOT = (0, (2, 1))

# ---- panel 1 : $SPX ----
ax1 = panel(90, 1193, 5, (3471.9, 4611.4), 50, 10, '%d')
centers = vbp_top - vbp_bin * (np.arange(len(vbp_volume)) + 0.5)
ax1.barh(centers, np.array(vbp_volume) / max(vbp_volume) * 89.0, height=vbp_bin - 3, left=XL,
         color='#9abfaf', zorder=1)
zones(ax1, spx_zones, spx_zone_text)
bars(ax1, spx_high, spx_low, spx_close, 5)
ax1.plot(ma_day, ma_val, color='#2e2e8a', lw=2, zorder=3.5)
ax1.add_patch(Rectangle((41, 95), 410, 58, transform=px, facecolor='white', edgecolor='none',
                        zorder=4.5, clip_on=False))
ax1.text(62, 120, '$SPX (Daily) 4076.57', transform=px, fontsize=LEGFS, va='baseline', zorder=4.6,
         parse_math=False)
ax1.plot([51, 82], [141, 141], transform=px, color='#2e2e8a', lw=4, zorder=4.6, clip_on=False)
ax1.text(92, 152, 'MA(200) 4048.33', transform=px, fontsize=LEGFS, va='baseline', color='#2e2e8a', zorder=4.6)
lines(ax1, spx_dotted, RED, 3, DOT)
lines(ax1, spx_blue, '#0000ff', 3, DOT)
lines(ax1, spx_thick, RED, 8, '-', z=7)
date_axis(ax1)

# ---- panel 2 : HYG ----
ax2 = panel(1234, 2337, 4, (69.64, 79.98), 0.5, 0.1, '%.1f')
zones(ax2, hyg_zones, hyg_zone_text)
bars(ax2, hyg_high, hyg_low, hyg_close, 4.5)
lines(ax2, hyg_dotted, RED, 3, DOT)
lines(ax2, hyg_blue, '#0000ff', 3, DOT)

# ---- panel 3 : correlation ----
ax3 = panel(2337, 2722, 2, (-1.121, 1.098), 0.25, 0.125, '%.2f')
ax3.plot(corr_day, corr_val, color='black', lw=2.3, zorder=4)
ax3.axhline(0, color='#808080', lw=1.8, ls=(0, (8, 3, 2, 3)), zorder=3)
ax3.tick_params(axis='y', which='major', pad=86)
for lab in ax3.get_yticklabels():
    lab.set_horizontalalignment('right')

# ---- panel 4 : UUP ----
ax4 = panel(2722, 3494, 3, (26.298, 30.874), 0.25, 0.05, '%.2f')
bars(ax4, uup_high, uup_low, uup_close, 4)
lines(ax4, uup_dotted, RED, 3, DOT)
lines(ax4, uup_dashed, RED, 3, (0, (4, 2)))
for xa in uup_arrow_day:
    ax4.plot([xa, xa], [27.63, 28.20], color='#ff3c00', lw=3, ls=(0, (3, 2)), zorder=6)
    ax4.add_patch(Polygon([(xa - 0.9, 28.20), (xa + 0.9, 28.20), (xa, 28.41)], closed=True,
                          color='#ff3c00', zorder=6))

# ---- panel 5 : $TNX ----
ax5 = panel(3494, 4264, 1, (23.21, 43.91), 2, 0.5, '%d')
bars(ax5, tnx_high, tnx_low, tnx_close, 2.8, color='#1a1a1a')
lines(ax5, tnx_dotted, RED, 3, DOT)
date_axis(ax5)

# ---------------- overlay: header, boxes, titles ----------------
ov = fig.add_axes([0, 0, 1, 1], zorder=20)
ov.set_xlim(0, W)
ov.set_ylim(H, 0)
ov.axis('off')
ov.patch.set_visible(False)

ov.add_patch(Rectangle((0, 0), W, 12, color='black'))
ov.add_patch(Rectangle((6199, 0), 10, H, color='black'))

ov.text(41, 51, '$SPX', fontsize=33, fontweight='bold', va='baseline', parse_math=False)
ov.text(214, 49, 'S&P 500 Large Cap Index  INDX', fontsize=31, va='baseline')
ov.text(41, 84, '1-Dec-2022', fontsize=26, va='baseline')
ov.text(5979, 48, '\u00a9 StockCharts.com', fontsize=27, va='baseline', ha='right')
hdr = [('Open', 4092, 'bold'), ('4087.14', 4247, 'normal'), ('High', 4454, 'bold'), ('4100.51', 4578, 'normal'),
       ('Low', 4789, 'bold'), ('4050.87', 4916, 'normal'), ('Close', 5127, 'bold'), ('4076.57', 5293, 'normal'),
       ('Chg', 5500, 'bold'), ('-3.54 (-0.09%)', 5620, 'normal')]
for s, x, wgt in hdr:
    ov.text(x, 86, s, fontsize=26, fontweight=wgt, va='baseline')
ov.text(5944, 86, '\u25bc', fontsize=20, va='baseline', color='#7a0000')

ov.text(62, 1264, 'HYG 75.62', fontsize=LEGFS, va='baseline')
ov.plot([49, 78], [2357, 2357], color='black', lw=4)
ov.text(90, 2368, 'CORR($SPX,HYG,20) 0.97', fontsize=LEGFS, va='baseline', parse_math=False)
ov.text(62, 2754, 'UUP 28.26', fontsize=LEGFS, va='baseline')
ov.text(62, 3526, '$TNX 35.29', fontsize=LEGFS, va='baseline', parse_math=False)


def box(x0, y0, x1, y1, shadow='#a8a8a8', off=8, edge='#808080'):
    ov.add_patch(Rectangle((x0 + off, y0 + off), x1 - x0, y1 - y0, facecolor=shadow, edgecolor='none'))
    ov.add_patch(Rectangle((x0, y0), x1 - x0, y1 - y0, facecolor='white', edgecolor=edge, lw=2.2))


# title boxes
box(2555, 12, 3212, 128, shadow='#c8c8c8', off=10)
ov.text(2575, 70, 'S&P 500', fontsize=74, fontweight='bold', color=RED, va='center')
box(1987, 1249, 3798, 1359, shadow='#c8c8c8', off=10)
ov.text(2862, 1305, 'HYG - HIGH YIELD BONDS', fontsize=80, fontweight='bold', color=RED, va='center', ha='center')
box(59, 2228, 2066, 2321, shadow='#c8c8c8', off=8)
ov.text(866, 2275, 'KORRELASJON, SPX VS HYG', fontsize=66, fontweight='bold', color=RED, va='center', ha='center')
ov.text(2772, 2782, 'US DOLLAR ETF', fontsize=84, fontweight='bold', color=RED, va='center', ha='center')
box(1992, 3440, 3318, 3551, shadow='#c8c8c8', off=10)
ov.text(2640, 3497, 'US 10 YEAR YIELD', fontsize=80, fontweight='bold', color=RED, va='center', ha='center')

# correlation highlight
ov.add_patch(Ellipse((761, 2378), 336, 105, fill=False, edgecolor=RED, lw=5))

# callout wedges
for pts in ([(5140, 1527), (5176, 1500), (5559, 1699)],
            [(4800, 3244), (4851, 3272), (5219, 3138)],
            [(5700, 4054), (5742, 4085), (5980, 3888)]):
    ov.add_patch(Polygon(pts, closed=True, facecolor='white', edgecolor='#8c8c8c', lw=2))

# comment boxes
notes = [(spx_note, (3635, 128, 5664, 376), 3652, [184, 243, 302, 361], '#0000ff'),
         (hyg_note, (4002, 1335, 5176, 1527), 4016, [1391, 1449, 1506], '#1030d0'),
         (uup_note, (3469, 3244, 4851, 3433), 3478, [3297, 3355, 3412], '#0000ff'),
         (tnx_note, (3861, 4054, 5742, 4242), 3876, [4107, 4165, 4222], '#0000ff')]
for txt, (x0, y0, x1, y1), tx, ys, col in notes:
    box(x0, y0, x1, y1)
    for s, y in zip(txt, ys):
        ov.text(tx, y, s, fontsize=45, fontweight='bold', color=col, va='baseline')

fig.savefig('out.png', dpi=100, facecolor='white')
